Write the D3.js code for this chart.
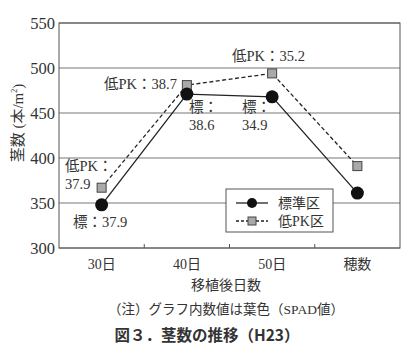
<!DOCTYPE html>
<html>
<head>
<meta charset="utf-8">
<script src="https://cdn.jsdelivr.net/npm/d3@7"></script>
<style>
  body { margin: 0; background: #fff; }
  svg text { font-family: "Liberation Serif", "DejaVu Serif", "Noto Sans CJK JP", serif; fill: #333; }
  .title { font-family: "Noto Sans CJK JP", "Noto Sans", sans-serif !important; font-weight: bold; }
</style>
</head>
<body>
<svg id="chart" width="418" height="353"></svg>
<script>
const categories = ['30日', '40日', '50日', '穂数'];
const standardValues = [348, 471, 468, 361];
const lowPkValues = [367, 481, 494, 391];
const yTicks = [300, 350, 400, 450, 500, 550];

const seriesNames = ['標準区', '低PK区'];

// SPAD labels, placed by hand around the points
const annotations = [
    {lines: ['低PK：', '37.9'], x: 65, y: 171},
    {lines: ['標：37.9'], x: 73, y: 227},
    {lines: ['低PK：38.7'], x: 104, y: 89},
    {lines: ['標：', '38.6'], x: 189, y: 112},
    {lines: ['低PK：35.2'], x: 232, y: 61},
    {lines: ['標：', '34.9'], x: 242, y: 112},
];

const margin = {top: 23, right: 18, bottom: 105, left: 59};
const fullWidth = 418;
const fullHeight = 353;
const width = fullWidth - margin.left - margin.right;
const height = fullHeight - margin.top - margin.bottom;

const svg = d3.select('#chart');
const g = svg.append('g')
    .attr('transform', `translate(${margin.left}, ${margin.top})`);

const xScale = d3.scaleBand()
    .domain(categories)
    .range([0, width]);

const yScale = d3.scaleLinear()
    .domain([300, 550])
    .range([height, 0]);

const cx = d => xScale(d) + xScale.bandwidth() / 2;

// gridlines
g.append('g').selectAll('line').data(yTicks)
    .enter().append('line')
        .attr('x1', 0).attr('x2', width)
        .attr('y1', d => yScale(d)).attr('y2', d => yScale(d))
        .attr('stroke', '#777').attr('stroke-width', 1);

g.append('rect')
    .attr('width', width).attr('height', height)
    .attr('fill', 'none').attr('stroke', '#555').attr('stroke-width', 1);

// y tick labels
g.append('g').selectAll('text').data(yTicks)
    .enter().append('text')
        .attr('x', -4).attr('y', d => yScale(d) + 5.5)
        .attr('text-anchor', 'end')
        .attr('font-size', 16.5)
        .text(d => d);

// x ticks between bands
g.append('g').selectAll('line').data(categories.slice(1))
    .enter().append('line')
        .attr('x1', d => xScale(d)).attr('x2', d => xScale(d))
        .attr('y1', height).attr('y2', height - 4)
        .attr('stroke', '#555');

g.append('g').selectAll('text').data(categories)
    .enter().append('text')
        .attr('x', cx).attr('y', height + 21)
        .attr('text-anchor', 'middle')
        .attr('font-size', 14)
        .text(d => d);

const line = d3.line()
    .x(d => cx(d.cat))
    .y(d => yScale(d.v));

const stdData = categories.map((cat, i) => ({cat, v: standardValues[i]}));
const lowData = categories.map((cat, i) => ({cat, v: lowPkValues[i]}));

g.append('path').datum(lowData)
    .attr('d', line).attr('fill', 'none')
    .attr('stroke', '#222').attr('stroke-width', 1.3)
    .attr('stroke-dasharray', '4,2.5');

g.append('path').datum(stdData)
    .attr('d', line).attr('fill', 'none')
    .attr('stroke', '#222').attr('stroke-width', 1.3);

g.selectAll('.sq').data(lowData)
    .enter().append('rect')
        .attr('class', 'sq')
        .attr('x', d => cx(d.cat) - 4.5).attr('y', d => yScale(d.v) - 4.5)
        .attr('width', 9).attr('height', 9)
        .attr('fill', '#a9a9a9').attr('stroke', '#444').attr('stroke-width', 1);

g.selectAll('.dot').data(stdData)
    .enter().append('circle')
        .attr('class', 'dot')
        .attr('cx', d => cx(d.cat)).attr('cy', d => yScale(d.v))
        .attr('r', 6.5).attr('fill', '#111');

annotations.forEach(a => {
    a.lines.forEach((t, j) => {
        svg.append('text')
            .attr('x', a.x).attr('y', a.y + j * 18)
            .attr('font-size', 14.5)
            .text(t);
    });
});

// legend
const legend = svg.append('g').attr('transform', 'translate(226, 189)');
legend.append('rect')
    .attr('width', 107).attr('height', 43)
    .attr('fill', '#fff').attr('stroke', '#555');
seriesNames.forEach((name, i) => {
    const y = 14 + i * 18;
    const row = legend.append('g');
    row.append('line')
        .attr('x1', 10).attr('x2', 42).attr('y1', y).attr('y2', y)
        .attr('stroke', '#222').attr('stroke-width', 1.3)
        .attr('stroke-dasharray', i === 1 ? '3,2' : null);
    if (i === 0) {
        row.append('circle').attr('cx', 26).attr('cy', y).attr('r', 5).attr('fill', '#111');
    } else {
        row.append('rect').attr('x', 22).attr('y', y - 4).attr('width', 8).attr('height', 8)
            .attr('fill', '#a9a9a9').attr('stroke', '#444');
    }
    row.append('text').attr('x', 52).attr('y', y + 5)
        .attr('font-size', 14).text(name);
});

// y axis label
svg.append('text')
    .attr('transform', 'translate(23, 123) rotate(-90)')
    .attr('text-anchor', 'middle')
    .attr('font-size', 15)
    .html('茎数 (本/m<tspan dy="-6" font-size="8">2</tspan><tspan dy="6">)</tspan>');

svg.append('text')
    .attr('x', 226).attr('y', 290)
    .attr('text-anchor', 'middle').attr('font-size', 14)
    .text('移植後日数');

svg.append('text')
    .attr('x', 226).attr('y', 314)
    .attr('text-anchor', 'middle').attr('font-size', 13.5)
    .text('（注）グラフ内数値は葉色（SPAD値）');

svg.append('text')
    .attr('class', 'title')
    .attr('x', 207).attr('y', 341)
    .attr('text-anchor', 'middle').attr('font-size', 15.5)
    .text('図３．茎数の推移（H23）');
</script>
</body>
</html>
